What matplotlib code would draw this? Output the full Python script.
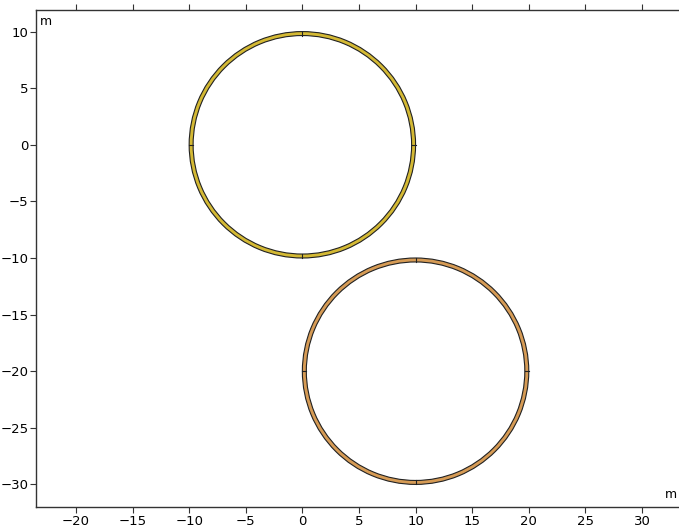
import numpy as np
import matplotlib.pyplot as plt
from matplotlib.patches import Wedge

# геометрия: два кольца (центр, внешний радиус, толщина, цвет)
centers = [(0, 0), (10, -20)]
r_outer = [10, 10]
thickness = [0.35, 0.35]
colors = ['#d4b934', '#d69b55']

xticks = [-20, -15, -10, -5, 0, 5, 10, 15, 20, 25, 30]
yticks = [10, 5, 0, -5, -10, -15, -20, -25, -30]

fig = plt.figure(figsize=(6.79, 5.30), dpi=100)
ax = fig.add_axes([0.053, 0.0415, 0.947, 0.9415])

for (cx, cy), r, t, c in zip(centers, r_outer, thickness, colors):
    ring = Wedge((cx, cy), r, 0, 360, width=t, facecolor=c,
                 edgecolor='#222222', linewidth=0.8)
    ax.add_patch(ring)
    # границы сегментов через каждые 90 градусов
    for ang in [0, 90, 180, 270]:
        a = np.deg2rad(ang)
        ax.plot([cx + (r - t) * np.cos(a), cx + r * np.cos(a)],
                [cy + (r - t) * np.sin(a), cy + r * np.sin(a)],
                color='#222222', linewidth=0.8)

ax.set_aspect('equal')
ax.set_xlim(-23.53, 33.27)
ax.set_ylim(-32.03, 11.94)
ax.set_xticks(xticks)
ax.set_yticks(yticks)

ax.spines['right'].set_visible(False)
for s in ['left', 'top', 'bottom']:
    ax.spines[s].set_color('#333333')
    ax.spines[s].set_linewidth(1.0)

ax.tick_params(axis='x', which='both', top=True, bottom=True,
               labeltop=False, direction='out', length=4, pad=1.5,
               colors='#333333', labelcolor='black', labelsize=9.5)
ax.tick_params(axis='y', which='both', left=True, right=False,
               direction='out', length=4, pad=1.5,
               colors='#333333', labelcolor='black', labelsize=9.5)

ax.text(0.006, 0.99, 'm', transform=ax.transAxes, ha='left', va='top', fontsize=9)
ax.text(0.997, 0.012, 'm', transform=ax.transAxes, ha='right', va='bottom', fontsize=9)

plt.savefig('out.png', dpi=100)
